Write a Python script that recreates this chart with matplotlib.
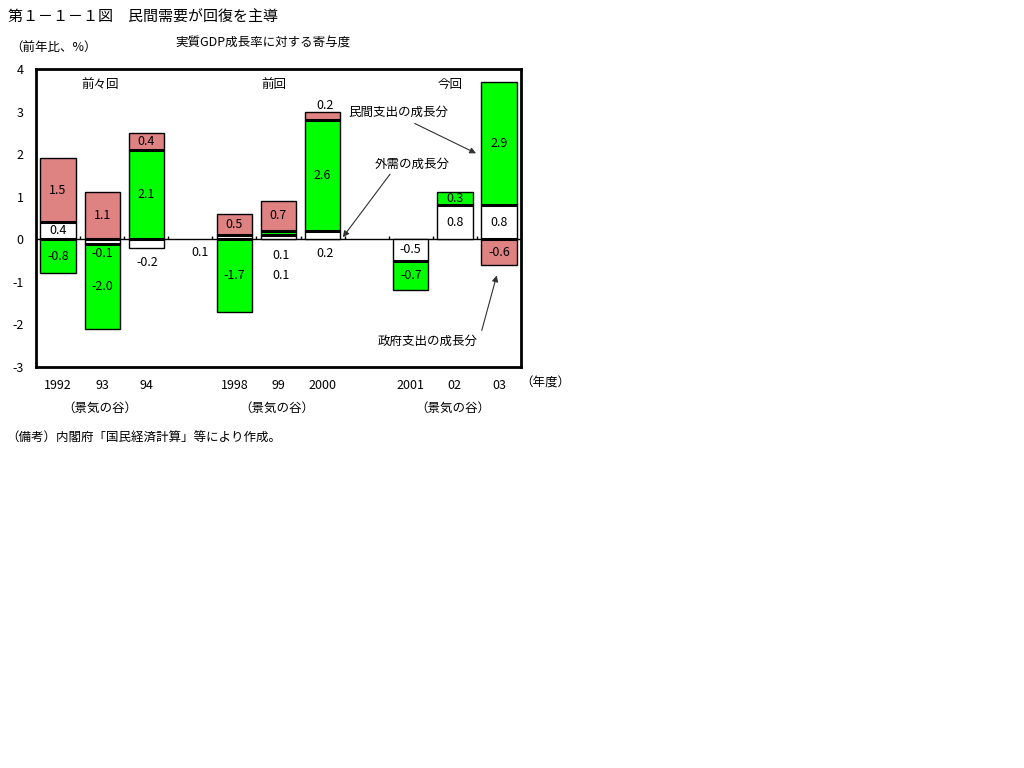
import matplotlib
matplotlib.use("Agg")
import matplotlib.pyplot as plt
import numpy as np

plt.rcParams['font.family'] = ['Noto Sans CJK JP', 'DejaVu Sans']

# ---- data (実質GDP成長率に対する寄与度, 前年比 %) ----
years = ["1992", "93", "94", "1998", "99", "2000", "2001", "02", "03"]
external = [0.4, -0.1, -0.2, 0.1, 0.1, 0.2, -0.5, 0.8, 0.8]     # 外需
private = [-0.8, -2.0, 2.1, -1.7, 0.1, 2.6, -0.7, 0.3, 2.9]     # 民間支出
government = [1.5, 1.1, 0.4, 0.5, 0.7, 0.2, 0.0, 0.0, -0.6]    # 政府支出
groups = ["前々回", "前回", "今回"]

GREEN = "#00FF00"
PINK = "#DF8282"
FS = 9

slots = np.array([0, 1, 2, 4, 5, 6, 8, 9, 10]) + 0.5
n = len(years)

fig = plt.figure(figsize=(10.24, 7.68), dpi=100)
ax = fig.add_axes([36 / 1024, 1 - 367 / 768, 485 / 1024, 298 / 768])
ax.set_xlim(0, 11)
ax.set_ylim(-3, 4)

# labels that sit outside (or off-centre of) their segment in the original
label_pos = {
    ("ext", 1): (1.5, -0.33),
    ("prv", 1): (1.5, -1.12),
    ("ext", 2): (2.53, -0.54),
    ("ext", 3): (3.71, -0.31),
    ("ext", 4): (5.56, -0.38),
    ("prv", 4): (5.56, -0.85),
    ("ext", 5): (6.56, -0.33),
    ("gov", 5): (6.56, 3.15),
}

pos_base = np.zeros(n)
neg_base = np.zeros(n)
edges = [[0.0] for _ in range(n)]
for key, vals, color in [("ext", external, "white"),
                         ("prv", private, GREEN),
                         ("gov", government, PINK)]:
    for i in range(n):
        v = vals[i]
        if v == 0:
            continue
        base = pos_base[i] if v > 0 else neg_base[i]
        ax.bar(slots[i], v, width=0.8, bottom=base, color=color,
               edgecolor="black", linewidth=1, zorder=2)
        edges[i].append(base + v)
        lx, ly = label_pos.get((key, i), (slots[i], base + v / 2))
        ax.text(lx, ly, f"{v:.1f}", ha="center", va="center",
                fontsize=FS, zorder=4)
        if v > 0:
            pos_base[i] += v
        else:
            neg_base[i] += v

# thicker lines between stacked segments
for i in range(n):
    e = sorted(set(np.round(edges[i], 3)))
    for y in e[1:-1]:
        ax.hlines(y, slots[i] - 0.4, slots[i] + 0.4, color="black",
                  linewidth=2.2, zorder=3)

ax.axhline(0, color="black", linewidth=1, zorder=1)
ax.vlines(np.arange(1, 11), 0, 0.07, color="black", linewidth=1, zorder=1)

for s in ax.spines.values():
    s.set_linewidth(2)

ax.set_yticks(range(-3, 5))
ax.set_yticklabels([str(v) for v in range(-3, 5)], fontsize=FS)
ax.set_xticks(slots)
ax.set_xticklabels(years, fontsize=FS)
ax.tick_params(axis="both", length=0)
ax.tick_params(axis="x", pad=9)
ax.tick_params(axis="y", pad=9)

for g, gx in zip(groups, [1.45, 5.39, 9.39]):
    ax.text(gx, 3.64, g, ha="center", va="center", fontsize=FS)

# annotations
arrow = dict(arrowstyle="-|>", color="#303030", lw=0.8, mutation_scale=9,
             shrinkA=0, shrinkB=0)
ax.text(8.21, 2.98, "民間支出の成長分", ha="center", va="center", fontsize=FS)
ax.annotate("", xy=(9.98, 2.02), xytext=(8.59, 2.72), arrowprops=arrow)
ax.text(8.53, 1.76, "外需の成長分", ha="center", va="center", fontsize=FS)
ax.annotate("", xy=(6.96, 0.05), xytext=(8.03, 1.53), arrowprops=arrow)
ax.text(8.89, -2.39, "政府支出の成長分", ha="center", va="center", fontsize=FS)
ax.annotate("", xy=(10.45, -0.85), xytext=(10.11, -2.14), arrowprops=arrow)

for tx in [1.45, 5.45, 9.45]:
    ax.text(tx, -3.98, "（景気の谷）", ha="center", va="center", fontsize=FS)


def ftext(x, y, s, size=FS, **kw):
    fig.text(x / 1024, 1 - y / 768, s, fontsize=size, va="center", **kw)


ftext(8, 18, "第１－１－１図　民間需要が回復を主導", size=10.8)
ftext(10, 48, "（前年比、%）")
ftext(175, 43, "実質GDP成長率に対する寄与度")
ftext(520, 383, "（年度）")
ftext(6, 438, "（備考）内閣府「国民経済計算」等により作成。")

fig.savefig("out.png", dpi=100)
